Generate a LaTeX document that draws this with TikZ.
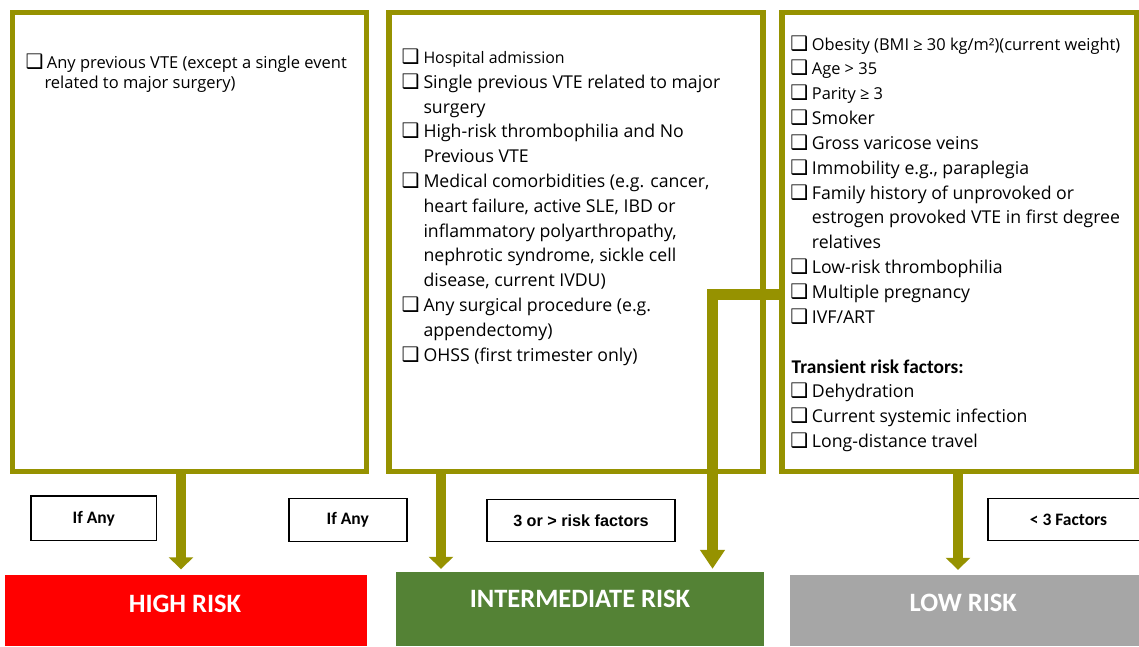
\documentclass[tikz,border=0pt]{standalone}
\usepackage{fontspec}
\setmainfont{Open Sans}
\newfontfamily\calib{Carlito}
\newfontfamily\arialf{Liberation Sans}
\newfontfamily\symf{DejaVu Sans}
\usetikzlibrary{arrows.meta}
\definecolor{olive}{RGB}{150,146,0}
\definecolor{hired}{RGB}{255,0,0}
\definecolor{midgreen}{RGB}{84,130,53}
\definecolor{lowgray}{RGB}{166,166,166}
\tikzset{
  critbox/.style={draw=olive, line width=5.5pt, fill=white, inner sep=0pt},
  labbox/.style={draw=black, line width=1.6pt, fill=white, inner sep=0pt},
  riskbox/.style={inner sep=0pt, draw=none},
  risklabel/.style={text=white, font=\calib\bfseries\fontsize{26.5}{30}\selectfont, inner sep=0pt},
  txt/.style={anchor=base west, inner sep=0pt, font=\fontsize{17.7}{20}\selectfont},
  txtsm/.style={anchor=base west, inner sep=0pt, font=\fontsize{16.4}{20}\selectfont},
  cb/.style={anchor=base west, inner sep=0pt, font=\symf\fontsize{20}{22}\selectfont},
  flow/.style={draw=olive, line width=10pt, -{Triangle[width=24pt,length=12pt]}},
  flowlong/.style={draw=olive, line width=11pt, -{Triangle[width=24pt,length=19pt]}},
}
\begin{document}
\begin{tikzpicture}[x=1pt,y=-1pt]
\useasboundingbox (0,0) rectangle (1139,646);
% criteria boxes
\node[critbox, minimum width=353.8pt, minimum height=459pt] (b1) at (189.4,242) {};
\node[critbox, minimum width=374pt, minimum height=459pt] (b2) at (576,242) {};
\node[critbox, minimum width=354.5pt, minimum height=459pt] (b3) at (959.25,242) {};
% box 1 text
\node[cb] (c11) at (25.5,68.3) {❑};
\node[txt, font=\fontsize{16.5}{20}\selectfont] (t11) at (46.7,68.3) {Any previous VTE (except a single event};
\node[txt, font=\fontsize{16.5}{20}\selectfont] (t12) at (44.3,88.3) {related to major surgery)};
% box 2 text
\node[cb] (c21) at (401.5,63.5) {❑};
\node[txt, font=\fontsize{15.9}{20}\selectfont] (t21) at (423.3,63.5) {Hospital admission};
\node[cb] (c22) at (401.5,88.3) {❑};
\node[txt] (t22) at (423.3,88.3) {Single previous VTE related to major};
\node[txt] (t23) at (423.3,113.1) {surgery};
\node[cb] (c24) at (401.5,137.9) {❑};
\node[txt] (t24) at (423.3,137.9) {High-risk thrombophilia and No};
\node[txt] (t25) at (423.3,162.7) {Previous VTE};
\node[cb] (c26) at (401.5,187.5) {❑};
\node[txt] (t26) at (423.3,187.5) {Medical comorbidities (e.g. cancer,};
\node[txt] (t27) at (423.3,212.3) {heart failure, active SLE, IBD or};
\node[txt] (t28) at (423.3,237.1) {inflammatory polyarthropathy,};
\node[txt] (t29) at (423.3,261.9) {nephrotic syndrome, sickle cell};
\node[txt] (t210) at (423.3,286.7) {disease, current IVDU)};
\node[cb] (c211) at (401.5,311.5) {❑};
\node[txt] (t211) at (423.3,311.5) {Any surgical procedure (e.g.};
\node[txt] (t212) at (423.3,336.3) {appendectomy)};
\node[cb] (c213) at (401.5,361.1) {❑};
\node[txt] (t213) at (423.3,361.1) {OHSS (first trimester only)};
% box 3 text
\node[cb] (c31) at (790.2,50) {❑};
\node[txtsm] (t31) at (811.7,50) {Obesity (BMI ≥ 30 kg/m²)(current weight)};
\node[cb] (c32) at (790.2,74.85) {❑};
\node[txtsm] (t32) at (811.7,74.85) {Age > 35};
\node[cb] (c33) at (790.2,99.7) {❑};
\node[txtsm] (t33) at (811.7,99.7) {Parity ≥ 3};
\node[cb] (c34) at (790.2,124.55) {❑};
\node[txt] (t34) at (811.7,124.55) {Smoker};
\node[cb] (c35) at (790.2,149.4) {❑};
\node[txt] (t35) at (811.7,149.4) {Gross varicose veins};
\node[cb] (c36) at (790.2,174.25) {❑};
\node[txt] (t36) at (811.7,174.25) {Immobility e.g., paraplegia};
\node[cb] (c37) at (790.2,199.1) {❑};
\node[txt] (t37) at (811.7,199.1) {Family history of unprovoked or};
\node[txt] (t38) at (811.7,223.95) {estrogen provoked VTE in first degree};
\node[txt] (t39) at (811.7,248.8) {relatives};
\node[cb] (c310) at (790.2,273.65) {❑};
\node[txt] (t310) at (811.7,273.65) {Low-risk thrombophilia};
\node[cb] (c311) at (790.2,298.5) {❑};
\node[txt] (t311) at (811.7,298.5) {Multiple pregnancy};
\node[cb] (c312) at (790.2,323.35) {❑};
\node[txt] (t312) at (811.7,323.35) {IVF/ART};
\node[txt, font=\calib\bfseries\fontsize{19.4}{22}\selectfont] (t313) at (791.5,373.05) {Transient risk factors:};
\node[cb] (c314) at (790.2,397.9) {❑};
\node[txt] (t314) at (811.7,397.9) {Dehydration};
\node[cb] (c315) at (790.2,422.75) {❑};
\node[txt] (t315) at (811.7,422.75) {Current systemic infection};
\node[cb] (c316) at (790.2,447.6) {❑};
\node[txt] (t316) at (811.7,447.6) {Long-distance travel};
% risk boxes
\node[riskbox, fill=hired, minimum width=361.7pt, minimum height=71pt] (hr) at (185.85,610.5) {};
\node[risklabel] (hrt) at (185,604) {HIGH RISK};
\node[riskbox, fill=midgreen, minimum width=368pt, minimum height=74.3pt] (ir) at (580,608.85) {};
\node[risklabel] (irt) at (580,599.3) {INTERMEDIATE RISK};
\node[riskbox, fill=lowgray, minimum width=352pt, minimum height=71pt] (lr) at (966,610.5) {};
\node[risklabel] (lrt) at (963.3,603.3) {LOW RISK};
% condition labels
\node[labbox, minimum width=125.3pt, minimum height=44.7pt, font=\calib\bfseries\fontsize{17.5}{20}\selectfont] (l1) at (93.7,518.3) {If Any};
\node[labbox, minimum width=118pt, minimum height=43pt, font=\calib\bfseries\fontsize{17.5}{20}\selectfont] (l2) at (347.7,520) {If Any};
\node[labbox, minimum width=188pt, minimum height=42pt, font=\arialf\bfseries\fontsize{16.2}{20}\selectfont] (l3) at (581,520.3) {3 or > risk factors};
\node[labbox, minimum width=161pt, minimum height=42pt, font=\calib\bfseries\fontsize{17.5}{20}\selectfont] (l4) at (1068.5,519.5) {< 3 Factors};
% connectors
\coordinate (a1) at (181,0);
\coordinate (a2) at (441,0);
\coordinate (a4) at (958,0);
\coordinate (j) at (712.5,294.6);
\draw[flow, shorten >=5.5pt] (a1 |- b1.south) -- (a1 |- hr.north);
\draw[flow, shorten >=2.7pt] (a2 |- b2.south) -- (a2 |- ir.north);
\draw[flowlong, shorten >=2.7pt] (b3.west |- j) -- (j) -- (j |- ir.north);
\draw[flow, shorten >=5pt] (a4 |- b3.south) -- (a4 |- lr.north);
\end{tikzpicture}
\end{document}
